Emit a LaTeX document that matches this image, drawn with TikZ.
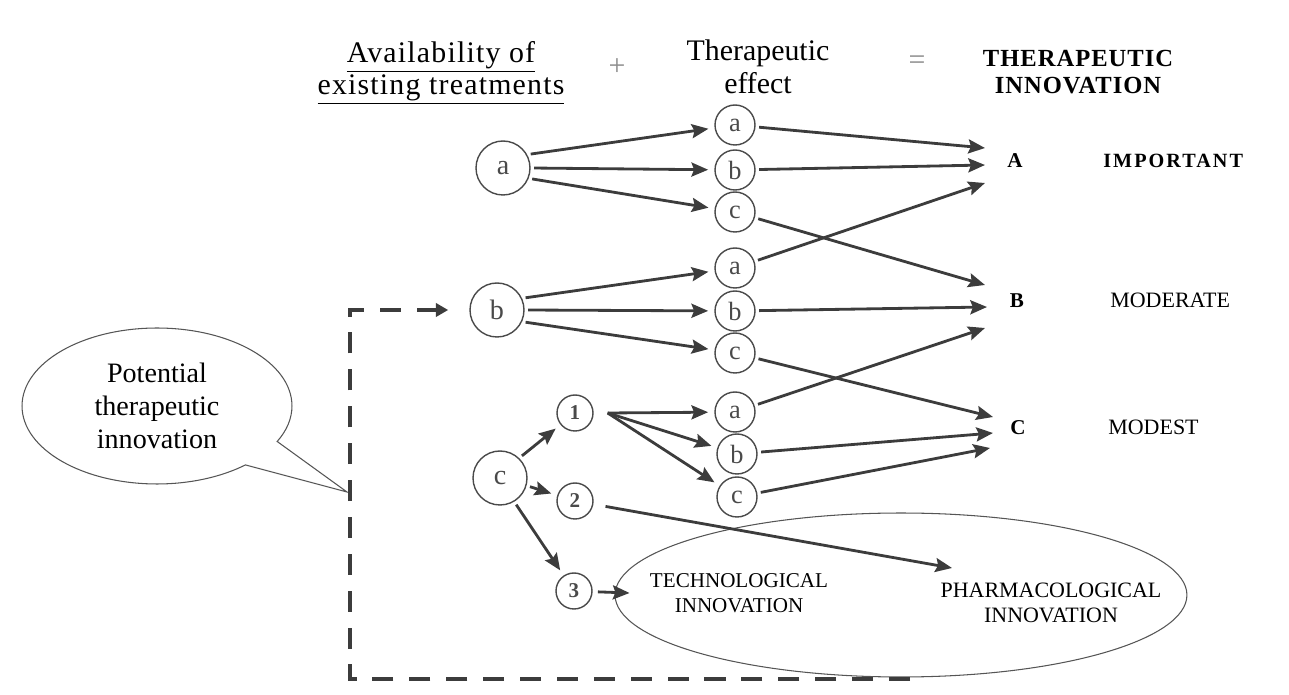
\documentclass[tikz,border=0pt]{standalone}
\usepackage{fontspec}
\setmainfont{Liberation Serif}
\usetikzlibrary{arrows.meta,shapes.geometric,shapes.callouts,calc}
\definecolor{ink}{HTML}{3C3C3C}
\definecolor{rim}{HTML}{4A4A4A}
\definecolor{sign}{HTML}{8C8C8C}
\definecolor{thin}{HTML}{555555}
\begin{document}
\begin{tikzpicture}[x=0.02cm,y=-0.02cm,
  tipstyle/.style={-{Stealth[length=9.5pt,width=8pt,inset=1.5pt]}},
  link/.style={draw=ink,line width=1.6pt,tipstyle,shorten <=2pt,shorten >=3.5pt},
  tolabel/.style={draw=ink,line width=1.6pt,tipstyle,shorten <=2pt},
  bigdot/.style={circle,draw=rim,line width=0.8pt,minimum size=1.08cm,inner sep=0pt,text=rim,font=\fontsize{16}{16}\selectfont},
  effdot/.style={circle,draw=rim,line width=0.8pt,minimum size=0.8cm,inner sep=0pt,text=rim,font=\fontsize{15}{15}\selectfont},
  numdot/.style={circle,draw=rim,line width=0.8pt,minimum size=0.72cm,inner sep=0pt,text=rim,font=\fontsize{12}{12}\selectfont\bfseries},
  grade/.style={inner sep=0pt,anchor=base,font=\fontsize{12}{12}\selectfont\bfseries},
  level/.style={inner sep=0pt,anchor=base west,font=\fontsize{12.5}{12.5}\selectfont},
  caps/.style={inner sep=0pt,align=center,font=\fontsize{12}{14}\selectfont},
  dashline/.style={draw=ink,line width=2.3pt,dash pattern=on 12pt off 9pt,
    -{Triangle[length=7pt,width=7.5pt]},shorten >=12pt}
]
\useasboundingbox (0,0) rectangle (1289,695);

% column headings
\node[inner sep=0pt,align=center,font=\fontsize{17}{18}\selectfont\addfontfeature{LetterSpace=4}] (hdavail) at (441,73)
  {\underline{Availability of}\\\underline{existing treatments}};
\node[inner sep=0pt,text=sign,font=\fontsize{17}{17}\selectfont] (plus) at (617,67) {+};
\node[inner sep=0pt,align=center,font=\fontsize{17}{19}\selectfont] (hdeffect) at (758,67) {Therapeutic\\effect};
\node[inner sep=0pt,text=sign,font=\fontsize{17}{17}\selectfont] (equals) at (917,63) {=};
\node[inner sep=0pt,align=center,font=\fontsize{14}{15}\selectfont\bfseries\addfontfeature{LetterSpace=4}] (hdinnov) at (1078,72)
  {THERAPEUTIC\\INNOVATION};

% availability of existing treatments
\node[bigdot] (La) at (503,168) {a};
\node[bigdot] (Lb) at (497,310) {b};
\node[bigdot] (Lc) at (500,478) {c};

% therapeutic effect
\node[effdot] (ta) at (735,125) {a};
\node[effdot] (tb) at (735,170) {b};
\node[effdot] (tc) at (735,212) {c};
\node[effdot] (ma) at (735,268) {a};
\node[effdot] (mb) at (735,311) {b};
\node[effdot] (mc) at (735,353) {c};
\node[effdot] (ba) at (735,412) {a};
\node[effdot] (bb) at (737,454) {b};
\node[effdot] (bc) at (737,497) {c};

% sub-cases of c
\node[numdot] (n1) at (575,413) {1};
\node[numdot] (n2) at (575,501) {2};
\node[numdot] (n3) at (574,591) {3};

% innovation grades
\node[grade] (A) at (1015,168) {A};
\node[grade] (B) at (1017,308) {B};
\node[grade] (C) at (1018,435) {C};
\node[level,font=\fontsize{11.5}{11.5}\selectfont\bfseries\addfontfeature{LetterSpace=10}] (imp) at (1103,168) {IMPORTANT};
\node[level] (mod) at (1110,308) {MODERATE};
\node[level] (mdst) at (1108,435) {MODEST};

% arrow ends at the grades
\coordinate (A1) at (985,148);
\coordinate (A2) at (985,165);
\coordinate (A3) at (985,183);
\coordinate (B1) at (985,285);
\coordinate (B2) at (987,307);
\coordinate (B3) at (985,328);
\coordinate (C1) at (993,417);
\coordinate (C2) at (993,433);
\coordinate (C3) at (990,448);

% technological / pharmacological innovation
\node[ellipse,draw=thin,line width=0.6pt,minimum width=11.44cm,minimum height=3.28cm,inner sep=0pt] (innov) at (901,595) {};
\node[caps] (tech) at (739,593) {TECHNOLOGICAL\\INNOVATION};
\node[caps,font=\fontsize{12.5}{14}\selectfont] (pharm) at (1051,603) {PHARMACOLOGICAL\\INNOVATION};
\coordinate (p2) at (952,568);
\coordinate (p3) at ($(innov.west)+(15,-2)$);

% speech bubble
\node[ellipse callout,draw=thin,line width=0.6pt,fill=white,minimum width=5.4cm,minimum height=3.12cm,
  inner sep=0pt,callout absolute pointer={(347,492)},callout pointer arc=22,align=center,
  font=\fontsize{16}{19}\selectfont] (bubble) at (157,406) {Potential\\therapeutic\\innovation};

% from availability to effect
\draw[link] (La.29) -- (ta);
\draw[link] (La.east) -- (tb);
\draw[link] (La.-22) -- (tc);
\draw[link] (Lb.25) -- (ma);
\draw[link] (Lb.east) -- (mb);
\draw[link] (Lb.-25) -- (mc);
\draw[link] (Lc.46) -- (n1);
\draw[link] (Lc.-16) -- (n2);
\draw[link] (Lc.-59) -- (n3);
\coordinate (n1out) at ($(n1.east)+(14,0)$);
\draw[link,shorten <=0pt] (n1out) -- (ba);
\draw[link,shorten <=0pt] (n1out) -- (bb);
\draw[link,shorten <=0pt] (n1out) -- (bc);

% from effect to grade
\draw[tolabel] (ta) -- (A1);
\draw[tolabel] (tb) -- (A2);
\draw[tolabel] (ma) -- (A3);
\draw[tolabel] (tc) -- (B1);
\draw[tolabel] (mb) -- (B2);
\draw[tolabel] (ba) -- (B3);
\draw[tolabel] (mc) -- (C1);
\draw[tolabel] (bb) -- (C2);
\draw[tolabel] (bc) -- (C3);

% c2 and c3 outcomes
\draw[tolabel,shorten <=7pt] (n2) -- (p2);
\draw[tolabel,shorten <=3pt] (n3) -- (p3);

% feedback loop of potential innovation
\coordinate (dend) at (910,679);
\coordinate (dlow) at (350,679);
\coordinate (dhigh) at (350,310);
\draw[dashline] (dend) -- (dlow) -- (dhigh) -- (Lb.west);
\end{tikzpicture}
\end{document}
